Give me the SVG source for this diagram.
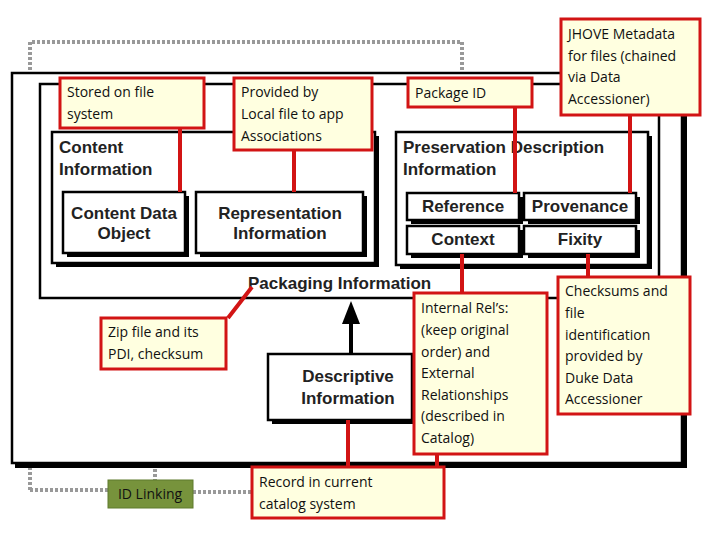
<svg xmlns="http://www.w3.org/2000/svg" width="720" height="540" viewBox="0 0 720 540">
<style>
.box{fill:#fff;stroke:#000;stroke-width:2.5}
.sh{fill:#000}
.b{font-family:"Liberation Sans",Arial,sans-serif;font-weight:bold;font-size:17px;fill:#222}
.c{fill:#ffffe0;stroke:#d21414;stroke-width:3}
.t{font-family:"Open Sans","Noto Sans",sans-serif;font-size:14px;fill:#111}
.r{stroke:#d21414;stroke-width:4;fill:none}
.d{stroke:#999;stroke-width:4;stroke-dasharray:3 2;fill:none}
</style>
<g id="connectors">
<path class="d" d="M155 369V480M30 490V42H462V73M30 490H108M193 492H252"/>
</g>
<g id="archive">
<rect class="sh" x="15" y="76" width="672" height="392"/>
<rect class="box" x="12" y="73" width="670" height="390"/>
</g>
<g id="packaging">
<rect class="box" x="40" y="84" width="619" height="214"/>
<text class="b" x="248" y="289">Packaging Information</text>
</g>
<g id="content">
<rect class="sh" x="56" y="136" width="323" height="131"/>
<rect class="box" x="52" y="132" width="323" height="131"/>
<text class="b" x="59" y="153">Content</text>
<text class="b" x="59" y="175">Information</text>
</g>
<g id="cdo">
<rect class="sh" x="67" y="196" width="122" height="61"/>
<rect class="box" x="63" y="192" width="122" height="61"/>
<text class="b" x="124" y="219" text-anchor="middle" font-size="15">Content Data</text>
<text class="b" x="124" y="239" text-anchor="middle" font-size="15">Object</text>
</g>
<g id="repinfo">
<rect class="sh" x="200" y="196" width="167" height="61"/>
<rect class="box" x="196" y="192" width="167" height="61"/>
<text class="b" x="280" y="219" text-anchor="middle" font-size="15">Representation</text>
<text class="b" x="280" y="239" text-anchor="middle" font-size="15">Information</text>
</g>
<g id="pdi">
<rect class="sh" x="400" y="136" width="252" height="133"/>
<rect class="box" x="396" y="132" width="252" height="133"/>
<text class="b" x="403" y="153">Preservation Description</text>
<text class="b" x="403" y="175">Information</text>
</g>
<g id="reference"><rect class="sh" x="411" y="197" width="112" height="27"/><rect class="box" x="407" y="193" width="112" height="27"/><text class="b" x="463" y="212" text-anchor="middle" font-size="15">Reference</text></g>
<g id="provenance"><rect class="sh" x="528" y="197" width="112" height="27"/><rect class="box" x="524" y="193" width="112" height="27"/><text class="b" x="580" y="212" text-anchor="middle" font-size="15">Provenance</text></g>
<g id="context"><rect class="sh" x="411" y="230" width="112" height="28"/><rect class="box" x="407" y="226" width="112" height="28"/><text class="b" x="463" y="245" text-anchor="middle" font-size="15">Context</text></g>
<g id="fixity"><rect class="sh" x="528" y="230" width="112" height="28"/><rect class="box" x="524" y="226" width="112" height="28"/><text class="b" x="580" y="245" text-anchor="middle" font-size="15">Fixity</text></g>
<g id="descriptive">
<rect class="sh" x="272" y="358" width="144" height="66"/>
<rect class="box" x="268" y="354" width="144" height="66"/>
<text class="b" x="348" y="382" text-anchor="middle">Descriptive</text>
<text class="b" x="348" y="404" text-anchor="middle">Information</text>
<path d="M351 354V322" stroke="#000" stroke-width="4"/>
<path d="M342 324L351 301L360 324Z" fill="#000"/>
</g>
<g id="red-connectors">
<path class="r" d="M180 128V192M294 150V192M515 107V193M630 115V193M462 254V293M588 254V277M228 318L252 287M348 420V467M437 454V467"/>
</g>
<g id="stored"><rect class="c" x="60" y="78" width="144" height="50"/><text class="t" x="67" y="97">Stored on file</text><text class="t" x="67" y="119">system</text></g>
<g id="provided"><rect class="c" x="234" y="78" width="138" height="72"/><text class="t" x="241" y="97">Provided by</text><text class="t" x="241" y="119">Local file to app</text><text class="t" x="241" y="141">Associations</text></g>
<g id="packageid"><rect class="c" x="408" y="78" width="124" height="29"/><text class="t" x="415" y="98">Package ID</text></g>
<g id="jhove"><rect class="c" x="561" y="19" width="139" height="96"/><text class="t" x="568" y="39">JHOVE Metadata</text><text class="t" x="568" y="61">for files (chained</text><text class="t" x="568" y="82">via Data</text><text class="t" x="568" y="104">Accessioner)</text></g>
<g id="internal"><rect class="c" x="414" y="293" width="133" height="161"/>
<text class="t" x="421" y="313">Internal Rel’s:</text><text class="t" x="421" y="335">(keep original</text><text class="t" x="421" y="357">order) and</text><text class="t" x="421" y="378">External</text><text class="t" x="421" y="400">Relationships</text><text class="t" x="421" y="421">(described in</text><text class="t" x="421" y="443">Catalog)</text></g>
<g id="checksums"><rect class="c" x="558" y="277" width="132" height="137"/>
<text class="t" x="565" y="296">Checksums and</text><text class="t" x="565" y="318">file</text><text class="t" x="565" y="340">identification</text><text class="t" x="565" y="361">provided by</text><text class="t" x="565" y="383">Duke Data</text><text class="t" x="565" y="404">Accessioner</text></g>
<g id="zip"><rect class="c" x="101" y="318" width="125" height="51"/><text class="t" x="108" y="337">Zip file and its</text><text class="t" x="108" y="359">PDI, checksum</text></g>
<g id="record"><rect class="c" x="252" y="467" width="192" height="51"/><text class="t" x="259" y="487">Record in current</text><text class="t" x="259" y="509">catalog system</text></g>
<g id="idlinking"><rect x="108" y="480" width="85" height="28" fill="#77933c" stroke="#5f7a2c" stroke-width="1"/><text class="t" x="150" y="499" text-anchor="middle">ID Linking</text></g>
</svg>
